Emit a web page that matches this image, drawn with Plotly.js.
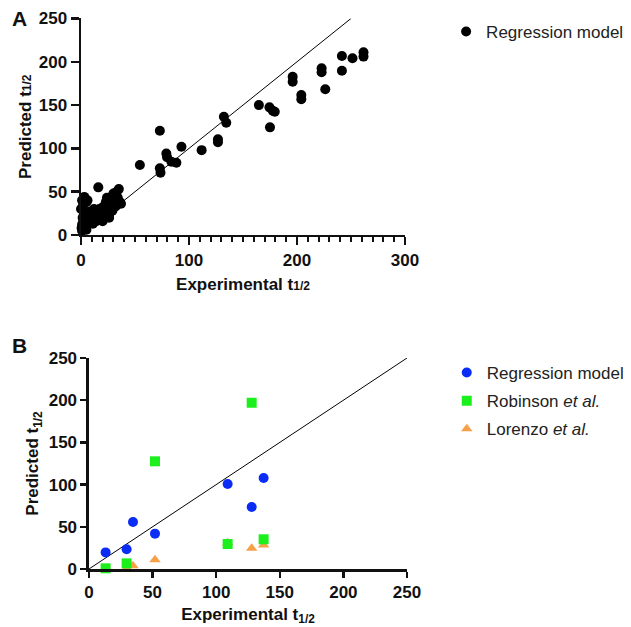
<!DOCTYPE html>
<html>
<head>
<meta charset="utf-8">
<script src="https://cdn.plot.ly/plotly-3.0.1.min.js"></script>
<style>html,body{margin:0;padding:0;background:#fff;}#chart{width:631px;height:627px;}</style>
</head>
<body>
<div id="chart"></div>
<script>
// Panel A: regression model (all compounds)
const aExp = [0.5,1,1,1.5,2,2,2,3,3,4,5,6,4,5,0,1,3,
  6,7,8,9,10,11,12,13,14,15,16,16,17,18,19,20,21,22,23,24,25,26,27,28,29,30,31,32,33,34,35,36,37,26,20,19,8,10,12,
  54.5,73,73,73.6,79,79.7,83.7,88.3,93,111.7,126.8,126.8,132.3,134.5,
  164.7,174.5,177.6,179.4,175,196,196,204,204,222.8,222.8,226.2,241.6,241.6,251.4,261.6,261.6];
const aPred = [8,12,5,20,15,28,35,44,25,10,38,40,18,6,30,40,42,
  22,14,27,18,25,13,30,20,16,28,22,55,30,18,26,32,24,20,38,43,30,22,35,44,28,48,38,33,50,43,53,38,36,20,16,17,22,18,24,
  80.8,120.4,77,72,94,89.7,84.6,83.5,102,98,110.5,107,136.6,129.7,
  150,147.4,143.5,142.4,124.3,182.8,177,161.7,156.7,192.5,188,168.2,206.7,189.7,204,211,206];

// Panel B: comparison
const regExp = [13.1,29.6,34.6,51.9,109,127.9,137.3];
const regPred = [19.7,23.3,55.7,41.9,100.7,73.5,107.8];
const robExp = [13.1,29.6,51.9,109,127.9,137.3];
const robPred = [0.8,6.7,127.6,29.6,197,35.2];
const lorExp = [29.6,34.6,51.9,109,127.9,137.3];
const lorPred = [1,4,11,31,24.5,28.5];

const identityX = [0,250];
const identityY = [0,250];

const FONT = 'Liberation Sans, Arial, Helvetica, sans-serif';

const traces = [
  {x: identityX, y: identityY, mode: 'lines', line:{color:'#000', width:1}, xaxis:'x', yaxis:'y', showlegend:false, hoverinfo:'skip'},
  {x: aExp, y: aPred, mode:'markers', name:'Regression model', marker:{color:'#000', size:10, symbol:'circle'}, xaxis:'x', yaxis:'y', cliponaxis:false, legend:'legend'},
  {x: identityX, y: identityY, mode: 'lines', line:{color:'#000', width:1}, xaxis:'x2', yaxis:'y2', showlegend:false, hoverinfo:'skip'},
  {x: regExp, y: regPred, mode:'markers', name:'Regression model', marker:{color:'#0a2cf5', size:10, symbol:'circle'}, xaxis:'x2', yaxis:'y2', cliponaxis:false, legend:'legend2', legendgroup:'g1', legendrank:1},
  {x: lorExp, y: lorPred, mode:'markers', name:'Lorenzo <i>et al.</i>', marker:{color:'#f7a04a', size:10, symbol:'triangle-up'}, xaxis:'x2', yaxis:'y2', cliponaxis:false, legend:'legend2', legendgroup:'g3', legendrank:3},
  {x: robExp, y: robPred, mode:'markers', name:'Robinson <i>et al.</i>', marker:{color:'#1cf01c', size:10, symbol:'square'}, xaxis:'x2', yaxis:'y2', cliponaxis:false, legend:'legend2', legendgroup:'g2', legendrank:2}
];

const tickFont = {family: FONT, size: 17, color:'#111', weight:'bold'};
const titleFont = {family: FONT, size: 17, color:'#111', weight:'bold'};
const axisCommon = {showgrid:false, zeroline:false, showline:true, linecolor:'#111', linewidth:2.5, ticks:'outside', tickcolor:'#111', tickwidth:2.5, tickfont:tickFont, fixedrange:true};

const layout = {
  width:631, height:627,
  margin:{l:0,r:0,t:0,b:0},
  paper_bgcolor:'#fff', plot_bgcolor:'#fff',
  showlegend:true,
  xaxis: Object.assign({}, axisCommon, {domain:[0.1284,0.6418], anchor:'y', range:[0,300], tickvals:[0,100,200,300], ticklen:8,
    minor:{dtick:10, tick0:0, ticks:'outside', ticklen:5, tickwidth:2, tickcolor:'#111'},
    title:{text:'Experimental t<span style="font-size:12px">1/2</span>', font:titleFont, standoff:9}}),
  yaxis: Object.assign({}, axisCommon, {domain:[0.6252,0.9705], anchor:'x', range:[0,250], tickvals:[0,50,100,150,200,250], ticklen:8,
    title:{text:'Predicted t<span style="font-size:12px">1/2</span>', font:titleFont, standoff:3}}),
  xaxis2: Object.assign({}, axisCommon, {domain:[0.1410,0.6450], anchor:'y2', range:[0,250], tickvals:[0,50,100,150,200,250], ticklen:6,
    title:{text:'Experimental t<sub>1/2</sub>', font:titleFont, standoff:7}}),
  yaxis2: Object.assign({}, axisCommon, {domain:[0.0925,0.4290], anchor:'x2', range:[0,250], tickvals:[0,50,100,150,200,250], ticklen:6,
    title:{text:'Predicted t<sub>1/2</sub>', font:titleFont, standoff:6}}),
  legend:{x:0.707, xanchor:'left', y:1-14/627, yanchor:'top', font:{family:FONT, size:17, color:'#222'}, bgcolor:'rgba(0,0,0,0)', itemwidth:30},
  legend2:{x:0.708, xanchor:'left', y:1-355/627, yanchor:'top', font:{family:FONT, size:17, color:'#222'}, bgcolor:'rgba(0,0,0,0)', itemwidth:30, traceorder:'grouped', tracegroupgap:3},
  annotations:[
    {text:'<b>A</b>', xref:'paper', yref:'paper', x:10/631, y:1-18/627, xanchor:'left', yanchor:'middle', showarrow:false, font:{family:FONT, size:21, color:'#111'}},
    {text:'<b>B</b>', xref:'paper', yref:'paper', x:10/631, y:1-345/627, xanchor:'left', yanchor:'middle', showarrow:false, font:{family:FONT, size:21, color:'#111'}}
  ]
};

Plotly.newPlot('chart', traces, layout, {displayModeBar:false, staticPlot:true});
</script>
</body>
</html>
